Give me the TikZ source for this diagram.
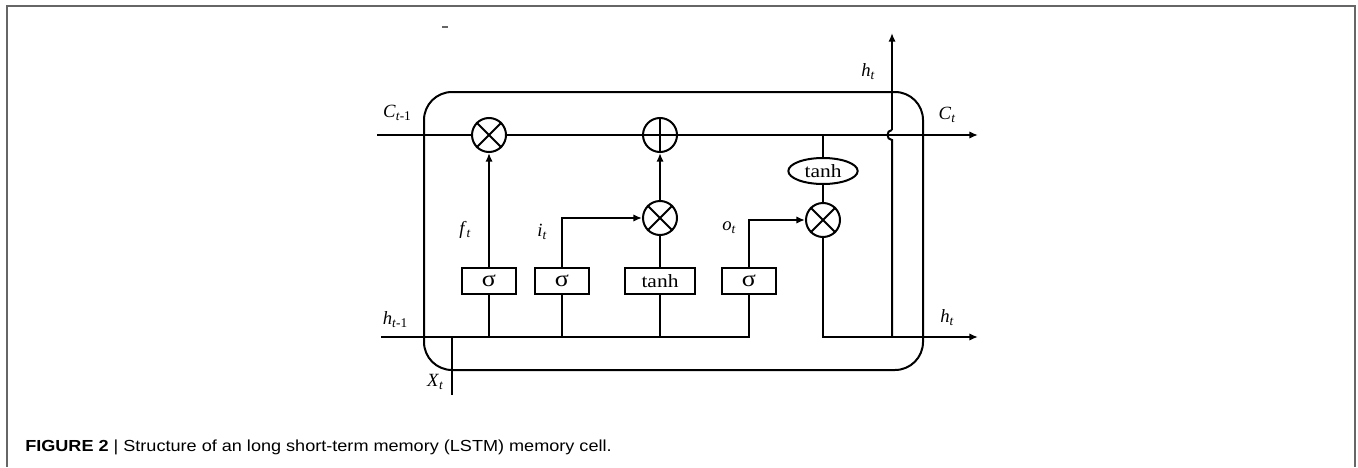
\documentclass[tikz,border=0pt]{standalone}
\usepackage{fontspec}
\setmainfont{Liberation Serif}
\newfontfamily\capfont[FakeStretch=1.13]{Liberation Sans}
\newfontfamily\gatefont[FakeStretch=1.15]{Liberation Serif}
\usetikzlibrary{arrows.meta,shapes.geometric}
\newcommand{\lbl}[2]{\textit{#1}\raisebox{-0.35ex}{\fontsize{10}{10}\selectfont\textit{#2}}}
\newcommand{\lblm}[3]{\textit{#1}\raisebox{-0.35ex}{\fontsize{10}{10}\selectfont\textit{#2}#3}}
\begin{document}
\begin{tikzpicture}[x=0.75pt,y=-0.75pt,
  wire/.style={line width=1.5pt},
  arr/.style={wire,-{Latex[length=6.5pt,width=5.5pt]}},
  opc/.style={circle,draw,line width=1.5pt,minimum size=25.5pt,inner sep=0pt},
  gate/.style={draw,line width=1.5pt,minimum width=40.5pt,minimum height=19.5pt,inner sep=0pt,font=\gatefont\fontsize{14}{14}\selectfont},
  sig/.style={gate,font=\gatefont\fontsize{17}{17}\selectfont},
  lab/.style={font=\fontsize{14}{14}\selectfont,inner sep=0pt}]
\useasboundingbox (0,0) rectangle (1358,467);
% outer frame
\draw[line width=1.5pt,color=black!60] (7,467) -- (7,6) -- (1355,6) -- (1355,467);
\draw[line width=1pt,color=black!60] (442,27) -- (448,27);
% cell box
\draw[wire,rounded corners=21pt] (424,92) rectangle (923,370);
% operators
\node[opc] (mf) at (489,135) {};
\node[opc] (mp) at (660,135) {};
\node[opc] (mi) at (660,218) {};
\node[opc] (mo) at (823,220) {};
\foreach \n in {mf,mi,mo}{\draw[line width=1.5pt] (\n.north west) -- (\n.south east) (\n.north east) -- (\n.south west);}
\draw[line width=1.5pt] (mp.north) -- (mp.south) (mp.west) -- (mp.east);
\node[draw,ellipse,line width=1.5pt,minimum width=52pt,minimum height=19.5pt,inner sep=0pt,font=\gatefont\fontsize{14}{14}\selectfont] (th) at (823,171) {tanh};
% gates
\node[sig] (sf) at (489,281) {σ};
\node[sig] (si) at (562,281) {σ};
\node[gate,minimum width=52.5pt] (tb) at (660,281) {tanh};
\node[sig] (so) at (749,281) {σ};
% coordinates
\coordinate (cin) at (377,135);
\coordinate (cout) at (978,135);
\coordinate (ctap) at (823,135);
\coordinate (hin) at (381,337);
\coordinate (hout) at (978,337);
\coordinate (xin) at (452,395);
\coordinate (xj) at (452,337);
\coordinate (hup0) at (892,337);
\coordinate (hopb) at (892,140);
\coordinate (hopt) at (892,130);
\coordinate (htop) at (892,33);
% cell state
\draw[wire] (cin) -- (mf.west);
\draw[wire] (mf.east) -- (mp.west);
\draw[arr] (mp.east) -- (cout);
\draw[wire] (ctap) -- (th.north);
\draw[wire] (th.south) -- (mo.north);
% gates wiring
\draw[arr] (sf.north) -- (mf.south);
\draw[arr] (si.north) |- (mi.west);
\draw[wire] (tb.north) -- (mi.south);
\draw[arr] (mi.north) -- (mp.south);
\draw[arr] (so.north) |- (mo.west);
% hidden input
\draw[wire] (hin) -| (so.south);
\foreach \g in {sf,si,tb}{\draw[wire] (\g.south) -- (\g.south |- hin);}
\draw[wire] (xin) -- (xj);
% output
\draw[arr] (mo.south) |- (hout);
\draw[wire] (hup0) -- (hopb) .. controls (886,140) and (886,130) .. (hopt);
\draw[arr] (hopt) -- (htop);
% labels
\node[lab] at (397,113) {\lblm{C}{t}{-1}};
\node[lab] at (947,115) {\lbl{C}{t}};
\node[lab] at (868,72) {\lbl{h}{t}};
\node[lab] at (465,230) {\lbl{f}{t}};
\node[lab] at (542,232) {\lbl{i}{t}};
\node[lab] at (729,228) {\lbl{o}{t}};
\node[lab] at (395,320) {\lblm{h}{t}{-1}};
\node[lab] at (947,318) {\lbl{h}{t}};
\node[lab] at (435,382) {\lbl{X}{t}};
% caption
\node[anchor=base west,inner sep=0pt,font=\capfont\fontsize{12}{12}\selectfont] (cap) at (25,451) {\textbf{FIGURE 2} | Structure of an long short-term memory (LSTM) memory cell.};
\end{tikzpicture}
\end{document}
